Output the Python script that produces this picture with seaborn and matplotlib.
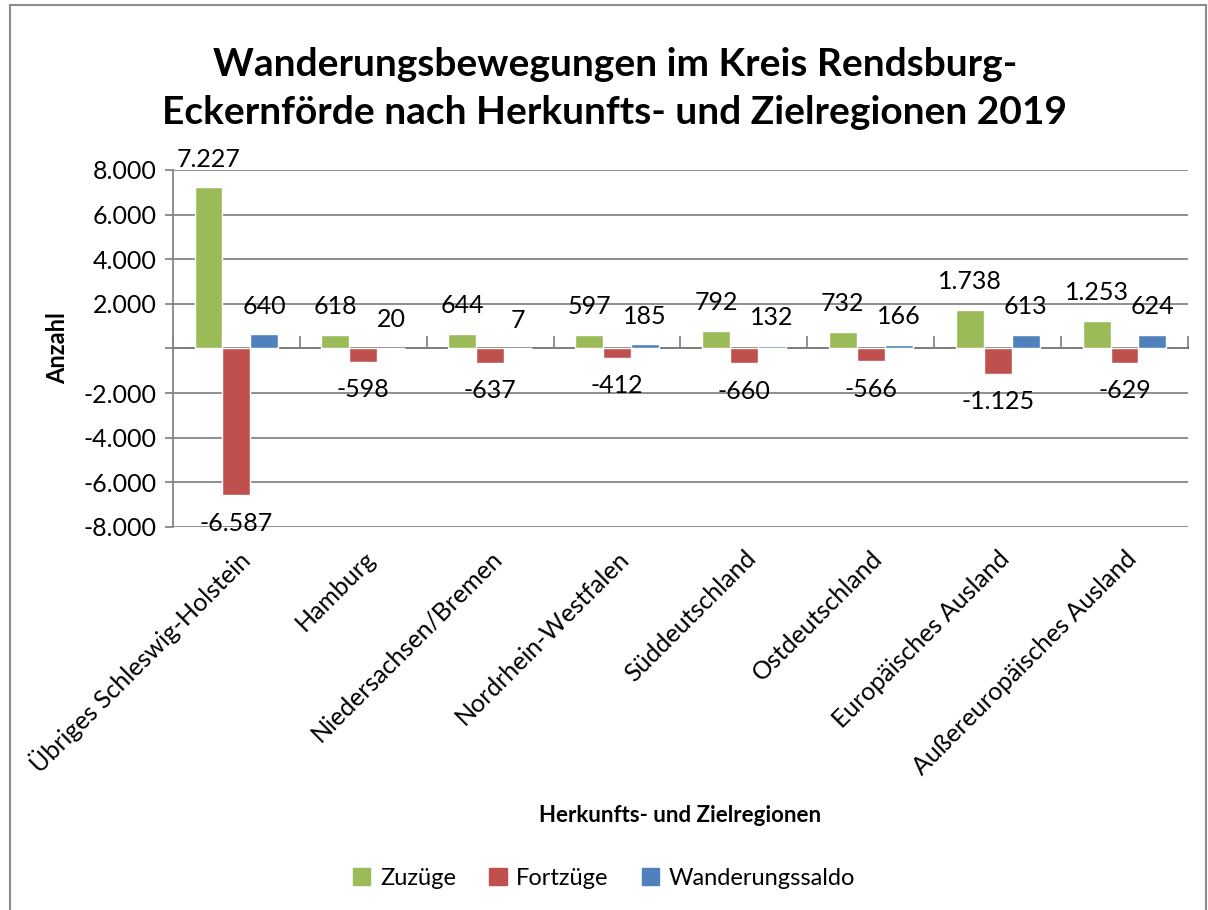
import matplotlib
matplotlib.use('Agg')
import matplotlib.pyplot as plt
import matplotlib.patches as mpatches
from matplotlib.ticker import FuncFormatter, FixedLocator
import pandas as pd
import seaborn as sns

# Values
regionen = ['Übriges Schleswig-Holstein', 'Hamburg', 'Niedersachsen/Bremen',
            'Nordrhein-Westfalen', 'Süddeutschland', 'Ostdeutschland',
            'Europäisches Ausland', 'Außereuropäisches Ausland']
zuzuege = [7227, 618, 644, 597, 792, 732, 1738, 1253]
fortzuege = [-6587, -598, -637, -412, -660, -566, -1125, -629]
saldo = [640, 20, 7, 185, 132, 166, 613, 624]
serien = ['Zuzüge', 'Fortzüge', 'Wanderungssaldo']
farben = ['#9BBB59', '#C0504D', '#4F81BD']

df = pd.DataFrame({
    'Region': regionen * 3,
    'Serie': [s for s in serien for _ in regionen],
    'Anzahl': zuzuege + fortzuege + saldo,
})

sns.set_theme(style='white')
plt.rcParams['font.family'] = ['Lato', 'DejaVu Sans']
plt.rcParams['text.color'] = 'black'
plt.rcParams['axes.labelcolor'] = 'black'
plt.rcParams['xtick.color'] = 'black'
plt.rcParams['ytick.color'] = 'black'

grid_col = '#868686'


def de_fmt(v, pos=None):
    if round(v) == 0:
        return ''
    return f'{int(round(v)):,}'.replace(',', '.')


fig = plt.figure(figsize=(12.08, 9.10), dpi=100)
ax = fig.add_axes([0.1432, 0.4209, 0.8402, 0.3923])

sns.barplot(data=df, x='Region', y='Anzahl', hue='Serie', hue_order=serien,
            palette=farben, width=0.66, gap=0, saturation=1, ax=ax,
            errorbar=None, legend=False)

for cont in ax.containers:
    ax.bar_label(cont, labels=[de_fmt(b.get_height()) for b in cont],
                 padding=12, fontsize=18, color='black')

ax.set_ylim(-8000, 8000)
ax.set_xlim(-0.5, len(regionen) - 0.5)
ax.yaxis.set_major_locator(FixedLocator(range(-8000, 8001, 2000)))
ax.yaxis.set_major_formatter(FuncFormatter(de_fmt))
ax.grid(axis='y', color=grid_col, linewidth=1.3)
ax.set_axisbelow(True)
for side in ['top', 'right', 'bottom']:
    ax.spines[side].set_visible(False)
ax.spines['left'].set_color(grid_col)
ax.spines['left'].set_linewidth(1.3)
ax.tick_params(axis='y', direction='out', length=6, color=grid_col, width=1.3,
               labelsize=18, labelcolor='black', pad=6, left=True)
ax.tick_params(axis='x', length=0, labelsize=18, labelcolor='black', pad=14)
plt.setp(ax.get_xticklabels(), rotation=45, ha='right', rotation_mode='anchor')

# horizontal axis crossing at zero with tick marks between categories
sec = ax.secondary_xaxis(0.5)
sec.set_xticks([i - 0.5 for i in range(len(regionen) + 1)])
sec.set_xticklabels([])
sec.tick_params(direction='out', length=9, color=grid_col, width=1.3)
sec.spines['bottom'].set_color(grid_col)
sec.spines['bottom'].set_linewidth(1.3)

ax.set_ylabel('Anzahl', fontsize=17, fontweight='bold', labelpad=10)
ax.set_xlabel('Herkunfts- und Zielregionen', fontsize=16, fontweight='bold')
ax.xaxis.set_label_coords(0.5, -0.78)

fig.text(0.509, 0.903,
         'Wanderungsbewegungen im Kreis Rendsburg-\nEckernförde nach Herkunfts- und Zielregionen 2019',
         ha='center', va='center', fontsize=28, fontweight='bold', linespacing=1.45)

handles = [mpatches.Patch(color=c, label=s) for s, c in zip(serien, farben)]
fig.legend(handles=handles, loc='center', bbox_to_anchor=(0.5, 0.035), ncol=3,
           frameon=False, fontsize=17, handlelength=0.75, handleheight=0.75,
           handletextpad=0.4, columnspacing=1.4)

# outer chart border
fig.patches.append(mpatches.Rectangle((0.008, -0.01), 0.99, 1.004, transform=fig.transFigure,
                                      fill=False, edgecolor='#8C8C8C', linewidth=1.5))

fig.savefig('out.png', dpi=100)
